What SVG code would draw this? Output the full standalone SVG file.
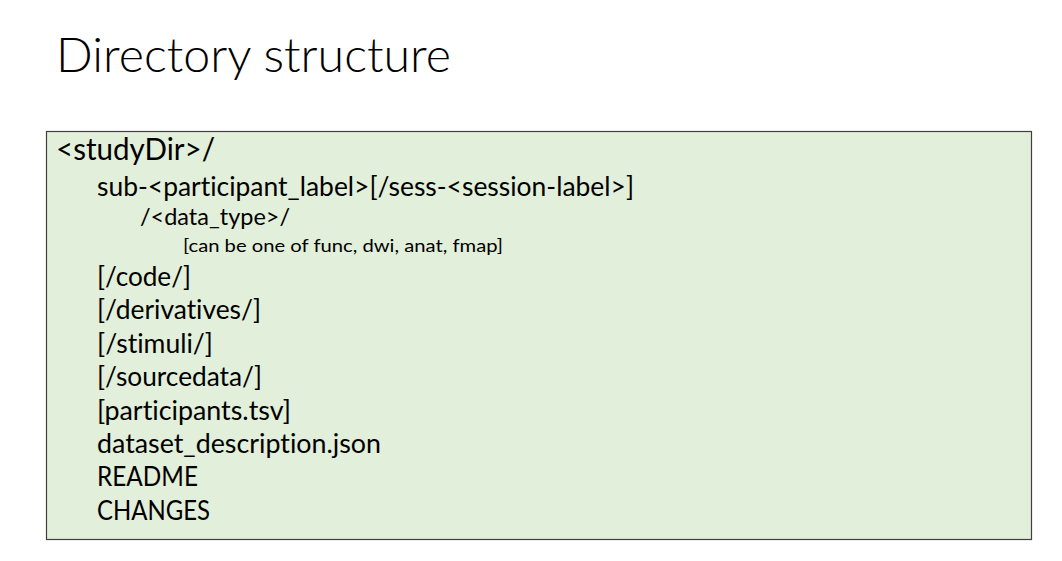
<svg xmlns="http://www.w3.org/2000/svg" width="1062" height="561" viewBox="0 0 1062 561">
<style>
text{font-family:Lato,"Open Sans","Liberation Sans",sans-serif;fill:#000;font-variant-ligatures:none;font-feature-settings:"liga" 0}
.title{font-size:47px;font-weight:300}
.l0{font-size:30px}
.l1{font-size:26px}
.l2{font-size:22.5px}
.l3{font-size:17.5px}
</style>
<rect width="1062" height="561" fill="#fff"/>
<g id="title"><text class="title" x="56" y="72" textLength="395" lengthAdjust="spacingAndGlyphs">Directory structure</text></g>
<g id="box">
<rect x="46.5" y="131.5" width="985" height="408" fill="#E2EFDA" stroke="#3f3f3f" stroke-width="1.2"/>
</g>
<g id="tree">
<text class="l0" x="56" y="160" textLength="159" lengthAdjust="spacingAndGlyphs">&lt;studyDir&gt;/</text>
<text class="l1" x="97" y="196" textLength="537" lengthAdjust="spacingAndGlyphs">sub-&lt;participant_label&gt;[/sess-&lt;session-label&gt;]</text>
<text class="l2" x="140" y="225" textLength="150" lengthAdjust="spacingAndGlyphs">/&lt;data_type&gt;/</text>
<text class="l3" x="183" y="252" textLength="320" lengthAdjust="spacingAndGlyphs">[can be one of func, dwi, anat, fmap]</text>
<text class="l1" x="97" y="286" textLength="94" lengthAdjust="spacingAndGlyphs">[/code/]</text>
<text class="l1" x="97" y="319.4" textLength="164" lengthAdjust="spacingAndGlyphs">[/derivatives/]</text>
<text class="l1" x="97" y="352.8" textLength="116" lengthAdjust="spacingAndGlyphs">[/stimuli/]</text>
<text class="l1" x="97" y="386.2" textLength="165" lengthAdjust="spacingAndGlyphs">[/sourcedata/]</text>
<text class="l1" x="97" y="419.6" textLength="194" lengthAdjust="spacingAndGlyphs">[participants.tsv]</text>
<text class="l1" x="97" y="453" textLength="284" lengthAdjust="spacingAndGlyphs">dataset_description.json</text>
<text class="l1" x="97" y="486.4" textLength="101" lengthAdjust="spacingAndGlyphs">README</text>
<text class="l1" x="97" y="519.8" textLength="113" lengthAdjust="spacingAndGlyphs">CHANGES</text>
</g>
</svg>
